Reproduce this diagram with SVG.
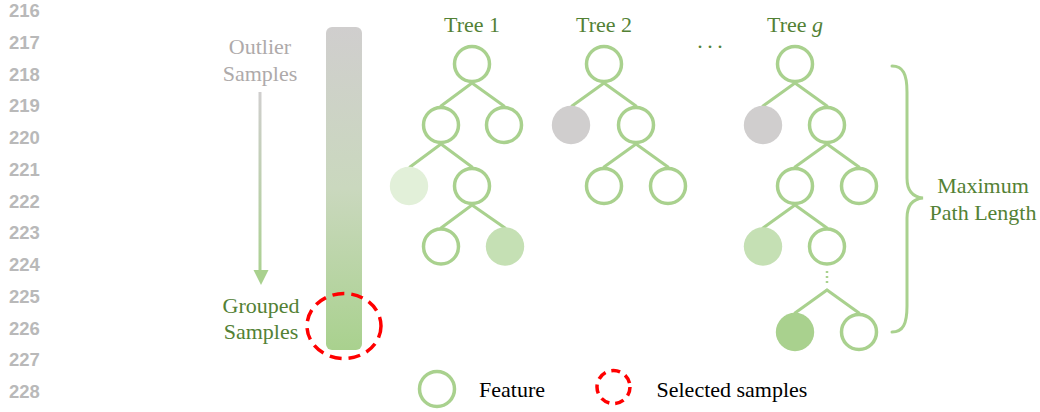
<svg xmlns="http://www.w3.org/2000/svg" width="1040" height="412" viewBox="0 0 1040 412">
<defs>
<style>
.ln{font-family:"Liberation Sans",Arial,sans-serif;font-weight:bold;font-size:18.5px;fill:#b9b9b9}
.t{font-family:"Liberation Serif","Times New Roman",serif;font-size:22px;text-anchor:middle}
.g{fill:#538135}
.gr{fill:#aeaaaa}
.k{fill:#000}
.feat{fill:#fff;stroke:#a9d18e;stroke-width:3.5}
.edge{stroke:#a9d18e;stroke-width:3;fill:none;stroke-linecap:round}
.red{fill:none;stroke:#ff0000;stroke-width:3.5;stroke-dasharray:12 7}
</style>
<linearGradient id="barGrad" x1="0" y1="0" x2="0" y2="1">
<stop offset="0" stop-color="#d0cece"/>
<stop offset="0.5" stop-color="#cad8be"/>
<stop offset="1" stop-color="#a9d18e"/>
</linearGradient>
<linearGradient id="arrGrad" gradientUnits="userSpaceOnUse" x1="0" y1="92" x2="0" y2="285">
<stop offset="0" stop-color="#d0cece"/>
<stop offset="1" stop-color="#a9d18e"/>
</linearGradient>
</defs>
<rect width="1040" height="412" fill="#fff"/>
<g id="line-numbers">
<text class="ln" x="9" y="17">216</text>
<text class="ln" x="9" y="48.75">217</text>
<text class="ln" x="9" y="80.5">218</text>
<text class="ln" x="9" y="112.25">219</text>
<text class="ln" x="9" y="144">220</text>
<text class="ln" x="9" y="175.75">221</text>
<text class="ln" x="9" y="207.5">222</text>
<text class="ln" x="9" y="239.25">223</text>
<text class="ln" x="9" y="271">224</text>
<text class="ln" x="9" y="302.75">225</text>
<text class="ln" x="9" y="334.5">226</text>
<text class="ln" x="9" y="366.25">227</text>
<text class="ln" x="9" y="398">228</text>
</g>
<g id="outlier-label">
<text class="t gr" x="260" y="54">Outlier</text>
<text class="t gr" x="260" y="80.5">Samples</text>
</g>
<g id="grouped-label">
<text class="t g" x="261" y="312.5">Grouped</text>
<text class="t g" x="261" y="339">Samples</text>
</g>
<g id="sample-bar">
<rect x="326" y="27" width="36" height="323" rx="6" fill="url(#barGrad)"/>
</g>
<g id="selected-region">
<ellipse class="red" cx="344" cy="326" rx="37" ry="32.5"/>
</g>
<g id="tree-labels">
<text class="t g" x="472" y="32">Tree 1</text>
<text class="t g" x="604" y="32">Tree 2</text>
<text class="t g" x="697.3" y="47.5" style="text-anchor:start;letter-spacing:4.5px">...</text>
<text class="t g" x="795" y="32">Tree <tspan font-style="italic">g</tspan></text>
</g>
<g id="connectors">
<line x1="260" y1="92" x2="260" y2="272" stroke="url(#arrGrad)" stroke-width="3"/>
<polygon points="253.5,270 268.5,270 261,285" fill="#a9d18e"/>
<!-- Tree 1 -->
<line class="edge" x1="472" y1="83" x2="441" y2="106"/>
<line class="edge" x1="472" y1="83" x2="504" y2="106"/>
<line class="edge" x1="441" y1="144" x2="410" y2="167"/>
<line class="edge" x1="441" y1="144" x2="472" y2="167"/>
<line class="edge" x1="472" y1="205" x2="441" y2="228"/>
<line class="edge" x1="472" y1="205" x2="505" y2="228"/>
<!-- Tree 2 -->
<line class="edge" x1="604" y1="83" x2="572" y2="106"/>
<line class="edge" x1="604" y1="83" x2="636" y2="106"/>
<line class="edge" x1="636" y1="144" x2="604" y2="167"/>
<line class="edge" x1="636" y1="144" x2="668" y2="167"/>
<!-- Tree g -->
<line class="edge" x1="795" y1="83" x2="763" y2="106"/>
<line class="edge" x1="795" y1="83" x2="827" y2="106"/>
<line class="edge" x1="827" y1="144" x2="795" y2="167"/>
<line class="edge" x1="827" y1="144" x2="859" y2="167"/>
<line class="edge" x1="795" y1="205" x2="763" y2="228"/>
<line class="edge" x1="795" y1="205" x2="827" y2="228"/>
<line x1="827" y1="271" x2="827" y2="285" stroke="#a9d18e" stroke-width="2.5" stroke-dasharray="2 3"/>
<line class="edge" x1="827" y1="290" x2="795" y2="313"/>
<line class="edge" x1="827" y1="290" x2="859" y2="313"/>
<!-- brace -->
<path class="edge" d="M892,66 C903,66 907,74 907,92 L907,178 C907,190 912,197 923,198 C912,199 907,206 907,218 L907,306 C907,324 903,332 892,332"/>
</g>
<g id="tree1">
<g id="t1-root"><circle class="feat" cx="472" cy="64" r="17.5"/></g>
<g id="t1-n2l"><circle class="feat" cx="441" cy="125" r="17.5"/></g>
<g id="t1-n2r"><circle class="feat" cx="504" cy="125" r="17.5"/></g>
<g id="t1-n3l"><circle cx="409" cy="186" r="19.2" fill="#e2f0d9"/></g>
<g id="t1-n3r"><circle class="feat" cx="472" cy="186" r="17.5"/></g>
<g id="t1-n4l"><circle class="feat" cx="441" cy="246.5" r="17.5"/></g>
<g id="t1-n4r"><circle cx="505" cy="246.5" r="19.2" fill="#c5e0b4"/></g>
</g>
<g id="tree2">
<g id="t2-root"><circle class="feat" cx="604" cy="64" r="17.5"/></g>
<g id="t2-n2l"><circle cx="571" cy="125" r="19.2" fill="#d0cece"/></g>
<g id="t2-n2r"><circle class="feat" cx="636" cy="125" r="17.5"/></g>
<g id="t2-n3l"><circle class="feat" cx="604" cy="186" r="17.5"/></g>
<g id="t2-n3r"><circle class="feat" cx="668" cy="186" r="17.5"/></g>
</g>
<g id="treeg">
<g id="tg-root"><circle class="feat" cx="795" cy="64" r="17.5"/></g>
<g id="tg-n2l"><circle cx="763" cy="125" r="19.2" fill="#d0cece"/></g>
<g id="tg-n2r"><circle class="feat" cx="827" cy="125" r="17.5"/></g>
<g id="tg-n3l"><circle class="feat" cx="795" cy="186" r="17.5"/></g>
<g id="tg-n3r"><circle class="feat" cx="859" cy="186" r="17.5"/></g>
<g id="tg-n4l"><circle cx="763" cy="246.5" r="19.2" fill="#c5e0b4"/></g>
<g id="tg-n4r"><circle class="feat" cx="827" cy="246.5" r="17.5"/></g>
<g id="tg-n5l"><circle cx="795" cy="332" r="19.2" fill="#a9d18e"/></g>
<g id="tg-n5r"><circle class="feat" cx="859" cy="332" r="17.5"/></g>
</g>
<g id="max-path-label">
<text class="t g" x="983" y="193">Maximum</text>
<text class="t g" x="983" y="220">Path Length</text>
</g>
<g id="legend">
<g id="legend-feature">
<circle class="feat" cx="437" cy="389" r="17.5"/>
<text class="t k" x="479" y="397" style="text-anchor:start">Feature</text>
</g>
<g id="legend-selected">
<circle class="red" cx="613.5" cy="387" r="16.5" style="stroke-dasharray:9 6"/>
<text class="t k" x="656.5" y="397" style="text-anchor:start">Selected samples</text>
</g>
</g>
</svg>
